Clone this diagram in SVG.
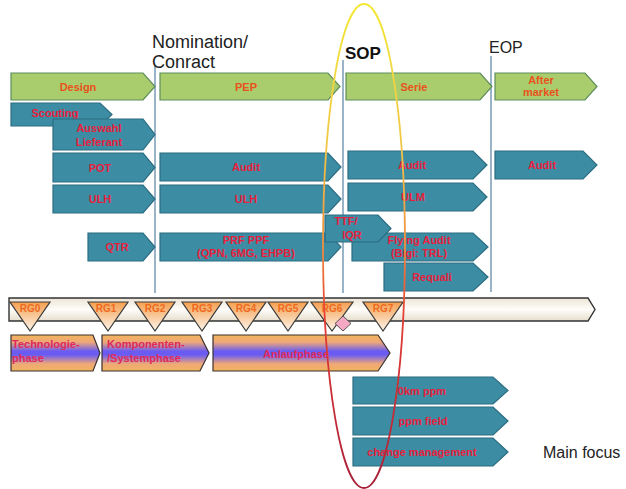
<svg xmlns="http://www.w3.org/2000/svg" width="626" height="489" viewBox="0 0 626 489">
<defs>
<linearGradient id="barG" x1="0" y1="0" x2="0" y2="1">
<stop offset="0" stop-color="#ece4d6"/><stop offset="0.5" stop-color="#fffdfa"/><stop offset="1" stop-color="#e6ddcc"/>
</linearGradient>
<linearGradient id="triG" x1="0" y1="0" x2="0" y2="1">
<stop offset="0" stop-color="#f5a050"/><stop offset="1" stop-color="#fdf4ea"/>
</linearGradient>
<linearGradient id="phG" x1="0" y1="0" x2="0" y2="1">
<stop offset="0" stop-color="#f2b45c"/><stop offset="0.2" stop-color="#eea878"/><stop offset="0.45" stop-color="#6a5cf2"/><stop offset="0.55" stop-color="#6a5cf2"/><stop offset="0.8" stop-color="#eea878"/><stop offset="1" stop-color="#f2b45c"/>
</linearGradient>
<linearGradient id="ellG" gradientUnits="userSpaceOnUse" x1="0" y1="0" x2="0" y2="489">
<stop offset="0" stop-color="#f2ea3a"/><stop offset="0.3" stop-color="#f2c548"/><stop offset="0.5" stop-color="#f09040"/><stop offset="0.65" stop-color="#e43c34"/><stop offset="1" stop-color="#a8203a"/>
</linearGradient>
<style>
.g{fill:#a9cc6c;stroke:#5f8d5c;stroke-width:1.2}
.t{fill:#3c8ca3;stroke:#2b6d82;stroke-width:1.2}
.vl{stroke:#9ab3c6;stroke-width:2;fill:none}
.lg{font-family:"Liberation Sans",Arial,sans-serif;font-weight:bold;font-size:11px;fill:#e8521e;text-anchor:middle}
.lt{font-family:"Liberation Sans",Arial,sans-serif;font-weight:bold;font-size:11px;fill:#e8203c;text-anchor:middle}
.rg{font-family:"Liberation Sans",Arial,sans-serif;font-weight:bold;font-size:10px;fill:#ee6a1e;text-anchor:middle}
.tri{fill:url(#triG);stroke:#3a3a3a;stroke-width:1.2}
.ph{fill:url(#phG);stroke:#3a3030;stroke-width:1.2}
.lp{font-family:"Liberation Sans",Arial,sans-serif;font-weight:bold;font-size:11px;fill:#e02a5a}
.hd{font-family:"Liberation Sans",Arial,sans-serif;font-size:18px;fill:#222}
</style>
</defs>
<rect width="626" height="489" fill="#ffffff"/>

<g id="connectors">
<line class="vl" x1="155" y1="66" x2="155" y2="293"/>
<line class="vl" x1="343" y1="60" x2="343" y2="293"/>
<line class="vl" x1="491" y1="56" x2="491" y2="292"/>
</g>

<g id="labels">
<text class="hd" x="152" y="48">Nomination/</text>
<text class="hd" x="152" y="68">Conract</text>
<text x="345" y="59" font-family="'Liberation Sans',Arial,sans-serif" font-weight="bold" font-size="17" fill="#111">SOP</text>
<text x="489" y="53" font-family="'Liberation Sans',Arial,sans-serif" font-size="16" fill="#222">EOP</text>
<text x="543" y="458" font-family="'Liberation Sans',Arial,sans-serif" font-size="16" fill="#222">Main focus</text>
</g>

<g id="design"><path class="g" d="M11 73H143L155 86.5L143 100H11Z"/><text class="lg" x="78" y="90.5">Design</text></g>
<g id="pep"><path class="g" d="M160 73H328L340 86.5L328 100H160Z"/><text class="lg" x="246" y="90.5">PEP</text></g>
<g id="serie"><path class="g" d="M346 73H480L492 86.5L480 100H346Z"/><text class="lg" x="414" y="90.5">Serie</text></g>
<g id="aftermarket"><path class="g" d="M495 73H585L597 86.5L585 100H495Z"/><text class="lg" x="541" y="84">After</text><text class="lg" x="541" y="96">market</text></g>

<g id="scouting"><path class="t" d="M11 103H100L112 114.5L100 126H11Z"/><text class="lt" x="55" y="117">Scouting</text></g>
<g id="auswahl"><path class="t" d="M53 119H143L155 134.5L143 150H53Z"/><text class="lt" x="99" y="132">Auswahl</text><text class="lt" x="99" y="146">Lieferant</text></g>

<g id="pot"><path class="t" d="M53 153H143L155 167.5L143 182H53Z"/><text class="lt" x="100" y="171.5">POT</text></g>
<g id="audit-pep"><path class="t" d="M160 153H328L341 167L328 181H160Z"/><text class="lt" x="246" y="171">Audit</text></g>
<g id="audit-serie"><path class="t" d="M348 151H473L487 165L473 179H348Z"/><text class="lt" x="412" y="169">Audit</text></g>
<g id="audit-am"><path class="t" d="M495 151H583L597 165L583 179H495Z"/><text class="lt" x="542" y="169">Audit</text></g>

<g id="ulh-left"><path class="t" d="M53 185H143L155 199L143 213H53Z"/><text class="lt" x="100" y="203">ULH</text></g>
<g id="ulh-pep"><path class="t" d="M160 185H328L341 199L328 213H160Z"/><text class="lt" x="246" y="203">ULH</text></g>
<g id="ulm-serie"><path class="t" d="M348 183H473L487 197L473 211H348Z"/><text class="lt" x="413" y="201">ULM</text></g>

<g id="qtr"><path class="t" d="M88 233H143L155 247L143 261H88Z"/><text class="lt" x="117" y="251">QTR</text></g>
<g id="prf"><path class="t" d="M160 233H328L341 247L328 261H160Z"/><text class="lt" x="246" y="244">PRF  PPF</text><text class="lt" x="246" y="257">(QPN, 6MG, EHPB)</text></g>
<g id="flying"><path class="t" d="M352 233H473L488 247L473 261H352Z"/><text class="lt" x="419" y="244">Flying Audit</text><text class="lt" x="419" y="257">(Bigi: TRL)</text></g>
<g id="ttf"><path class="t" d="M325 215H378L391 228.5L378 242H325Z"/><text class="lt" x="346" y="225">TTF/</text><text class="lt" x="352" y="239">IQR</text></g>
<g id="requali"><path class="t" d="M384 263H473L488 277L473 291H384Z"/><text class="lt" x="432" y="281">Requali</text></g>

<g id="gatebar"><path d="M9 298H588L595 309.5L588 321H9Z" fill="url(#barG)" stroke="#333" stroke-width="1.4"/></g>
<g id="rg0"><path class="tri" d="M10 302H50L30 331Z"/><text class="rg" x="30" y="312">RG0</text></g>
<g id="rg1"><path class="tri" d="M88 302H128L108 331Z"/><text class="rg" x="106" y="312">RG1</text></g>
<g id="rg2"><path class="tri" d="M135 302H175L155 331Z"/><text class="rg" x="155" y="312">RG2</text></g>
<g id="rg3"><path class="tri" d="M182 302H222L202 331Z"/><text class="rg" x="202" y="312">RG3</text></g>
<g id="rg4"><path class="tri" d="M226 302H266L246 331Z"/><text class="rg" x="246" y="312">RG4</text></g>
<g id="rg5"><path class="tri" d="M268 302H308L288 331Z"/><text class="rg" x="288" y="312">RG5</text></g>
<g id="rg6"><path class="tri" d="M311 302H353L332 331Z"/><text class="rg" x="332" y="312">RG6</text></g>
<g id="diamond"><path d="M343 316L351 323.5L343 331L335 323.5Z" fill="#f4a8c4" stroke="#555" stroke-width="1"/></g>
<g id="rg7"><path class="tri" d="M363 302H403L383 331Z"/><text class="rg" x="383" y="312">RG7</text></g>

<g id="technologie"><path class="ph" d="M11 335H93L100 353L93 371H11Z"/><text class="lp" x="12" y="348">Technologie-</text><text class="lp" x="12" y="362">phase</text></g>
<g id="komponenten"><path class="ph" d="M102 335H200L209 353L200 371H102Z"/><text class="lp" x="107" y="348" font-size="11.5">Komponenten-</text><text class="lp" x="107" y="362" font-size="11.5">/Systemphase</text></g>
<g id="anlauf"><path class="ph" d="M213 335H378L390 353L378 371H213Z"/><text class="lp" x="296" y="357.5" font-size="12" text-anchor="middle">Anlaufphase</text></g>

<g id="km0"><path class="t" d="M353 377H493L508 390.5L493 404H353Z"/><text class="lt" x="422" y="394.5">0km  ppm</text></g>
<g id="ppmfield"><path class="t" d="M353 407H493L508 421L493 435H353Z"/><text class="lt" x="423" y="425">ppm field</text></g>
<g id="change"><path class="t" d="M353 438H493L508 452L493 466H353Z"/><text class="lt" x="422" y="456" font-size="11.5">change management</text></g>

<g id="focus-ellipse"><ellipse cx="364" cy="246" rx="41" ry="242" fill="none" stroke="url(#ellG)" stroke-width="1.8"/></g>
</svg>
